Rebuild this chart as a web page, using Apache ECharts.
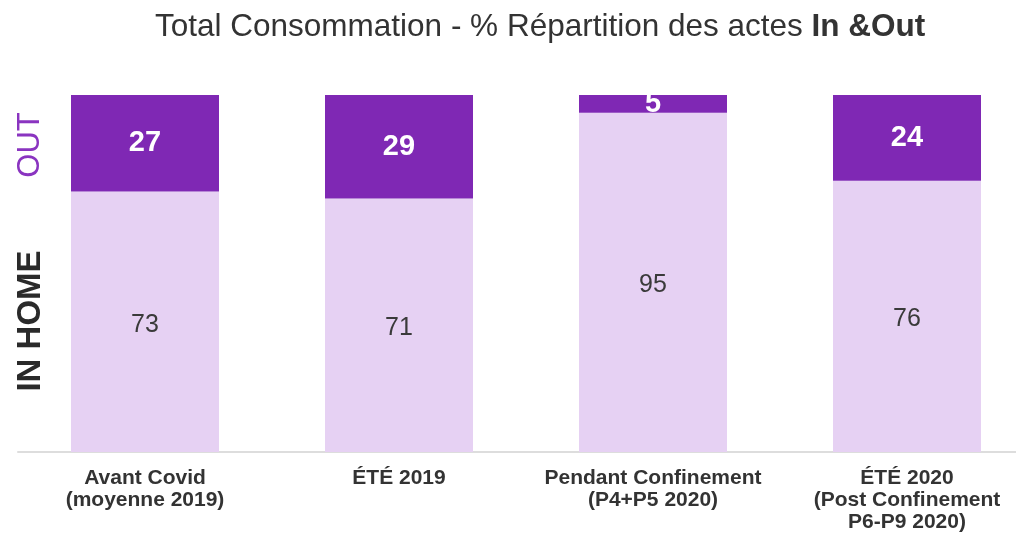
<!DOCTYPE html>
<html>
<head>
<meta charset="utf-8">
<script src="https://cdn.jsdelivr.net/npm/echarts@6/dist/echarts.min.js"></script>
<style>
  html, body { margin: 0; padding: 0; background: #fff; }
  #chart { width: 1016px; height: 534px; }
</style>
</head>
<body>
<div id="chart"></div>
<script>
// periods on the x axis
const categories = [
    "Avant Covid\n(moyenne 2019)",
    "ÉTÉ 2019",
    "Pendant Confinement\n(P4+P5 2020)",
    "ÉTÉ 2020\n(Post Confinement\nP6-P9 2020)",
];
// share of acts, in %
const inHome = [73, 71, 95, 76];
const out = [27, 29, 5, 24];

const chart = echarts.init(document.getElementById("chart"));

chart.setOption({
    animation: false,
    title: {
        text: "{n|Total Consommation - % Répartition des actes }{b|In &Out}",
        left: 150,
        top: 6,
        textStyle: {
            rich: {
                n: { fontFamily: "Liberation Sans", fontSize: 31.5, fontWeight: "normal", color: "#333" },
                b: { fontFamily: "Liberation Sans", fontSize: 31.5, fontWeight: "bold", color: "#333" },
            },
        },
    },
    grid: { left: 18, width: 1016, top: 95, bottom: 82, outerBoundsMode: "none" },
    xAxis: {
        type: "category",
        data: categories,
        axisTick: { show: false },
        axisLine: { lineStyle: { color: "#dddddd", width: 2 } },
        axisLabel: {
            fontFamily: "Liberation Sans",
            fontSize: 21,
            fontWeight: "bold",
            color: "#333",
            lineHeight: 22,
            margin: 15,
            interval: 0,
        },
    },
    yAxis: {
        type: "value",
        min: 0,
        max: 100,
        show: false,
        splitLine: { show: false },
    },
    series: [
        {
            name: "IN HOME",
            type: "bar",
            stack: "total",
            data: inHome,
            barWidth: 148,
            itemStyle: { color: "#e6d1f3" },
            label: {
                show: true,
                position: "inside",
                fontFamily: "Liberation Sans",
                fontSize: 25,
                color: "#3a3a3a",
                offset: [0, 3],
            },
        },
        {
            name: "OUT",
            type: "bar",
            stack: "total",
            data: out,
            barWidth: 148,
            itemStyle: { color: "#7f28b4" },
            label: {
                show: true,
                position: "inside",
                fontFamily: "Liberation Sans",
                fontSize: 29,
                fontWeight: "bold",
                color: "#ffffff",
            },
        },
    ],
    graphic: [
        {
            type: "text",
            x: 30,
            y: 145,
            rotation: Math.PI / 2,
            style: {
                text: "OUT",
                fontFamily: "Liberation Sans",
                fontSize: 31,
                fill: "#8a34c0",
                align: "center",
                verticalAlign: "middle",
            },
        },
        {
            type: "text",
            x: 31,
            y: 321,
            rotation: Math.PI / 2,
            style: {
                text: "IN HOME",
                fontFamily: "Liberation Sans",
                fontSize: 33,
                fontWeight: "bold",
                fill: "#2a2a2a",
                align: "center",
                verticalAlign: "middle",
            },
        },
    ],
});
</script>
</body>
</html>
